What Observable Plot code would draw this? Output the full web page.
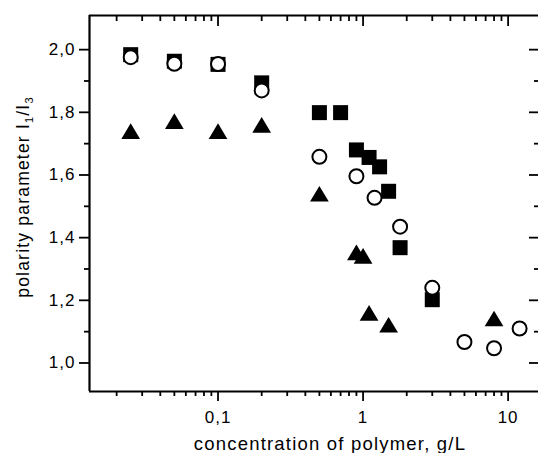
<!DOCTYPE html>
<html>
<head>
<meta charset="utf-8">
<script src="https://cdn.jsdelivr.net/npm/d3@7"></script>
<script src="https://cdn.jsdelivr.net/npm/@observablehq/plot@0.6"></script>
<style>
  body { margin: 0; background: #fff; }
  #chart svg { display: block; }
  #chart svg text { font-family: "Liberation Sans", Arial, sans-serif; letter-spacing: 1px; }
</style>
</head>
<body>
<div id="chart"></div>
<script>
// ---- data ----
const squareConc = [0.025, 0.05, 0.1, 0.2, 0.5, 0.7, 0.9, 1.1, 1.3, 1.5, 1.8, 3.0];
const squareI    = [1.984, 1.963, 1.953, 1.894, 1.799, 1.799, 1.680, 1.656, 1.626, 1.548, 1.368, 1.202];

const circleConc = [0.025, 0.05, 0.1, 0.2, 0.5, 0.9, 1.2, 1.8, 3.0, 5.0, 8.0, 12.0];
const circleI    = [1.976, 1.955, 1.954, 1.870, 1.658, 1.596, 1.527, 1.435, 1.240, 1.067, 1.047, 1.110];

const triangleConc = [0.025, 0.05, 0.1, 0.2, 0.5, 0.9, 1.0, 1.1, 1.5, 8.0];
const triangleI    = [1.740, 1.772, 1.740, 1.760, 1.540, 1.353, 1.342, 1.160, 1.122, 1.142];

const xTickValues = [0.1, 1, 10];
const xTickLabels = ["0,1", "1", "10"];
const xMinorTicks = [0.02,0.03,0.04,0.05,0.06,0.07,0.08,0.09,
                     0.2,0.3,0.4,0.5,0.6,0.7,0.8,0.9,
                     2,3,4,5,6,7,8,9];
const yTickValues = [1.0, 1.2, 1.4, 1.6, 1.8, 2.0];
const yTickLabels = ["1,0", "1,2", "1,4", "1,6", "1,8", "2,0"];
const yMinorTicks = [1.1, 1.3, 1.5, 1.7, 1.9];

const xLabel = "concentration of polymer, g/L";
const yLabelMain = "polarity parameter I";

// ---- layout ----
const W = 538, H = 453;
const mL = 89, mR = 0, mT = 15, mB = 62;
const plotW = W - mL - mR, plotH = H - mT - mB;
const xDomain = [0.013, 16.2];
const yDomain = [0.909, 2.109];

const toRows = (xs, ys) => xs.map((x, i) => ({x, y: ys[i]}));
const squares = toRows(squareConc, squareI);
const circles = toRows(circleConc, circleI);
const triangles = toRows(triangleConc, triangleI);

const squareSymbol = {draw(ctx, size) { const r = Math.sqrt(size / Math.PI); ctx.rect(-r, -r, 2 * r, 2 * r); }};
const triangleSymbol = {draw(ctx, size) {
  const r = Math.sqrt(size / Math.PI);
  ctx.moveTo(0, -r); ctx.lineTo(1.2 * r, r); ctx.lineTo(-1.2 * r, r); ctx.closePath();
}};

const tw = 1.8;   // tick stroke
const fw = 2.2;   // axis line stroke

const chart = Plot.plot({
  width: W, height: H,
  marginLeft: mL, marginRight: mR, marginTop: mT, marginBottom: mB,
  style: {fontFamily: "Liberation Sans, Arial, sans-serif", fontSize: "17px", background: "#fff", color: "#000"},
  x: {type: "log", domain: xDomain, label: null},
  y: {domain: yDomain, label: null},
  marks: [
    // axis lines (left, bottom, top)
    Plot.ruleX([xDomain[0]], {stroke: "#000", strokeWidth: fw}),
    Plot.ruleY([yDomain[0]], {stroke: "#000", strokeWidth: fw}),
    Plot.ruleY([yDomain[1]], {stroke: "#000", strokeWidth: fw}),
    // bottom axis: major with labels, minor ticks
    Plot.axisX(xTickValues, {anchor: "bottom", tickSize: 10, tickPadding: 9, strokeWidth: tw,
      tickFormat: d => xTickLabels[xTickValues.indexOf(d)], label: null, fontSize: 17}),
    Plot.tickX(xMinorTicks, {x: d => d, insetTop: plotH, insetBottom: -5, stroke: "#000", strokeWidth: tw}),
    // top mirror ticks (inward)
    Plot.tickX(xTickValues, {x: d => d, insetBottom: plotH - 11, stroke: "#000", strokeWidth: tw}),
    Plot.tickX(xMinorTicks, {x: d => d, insetBottom: plotH - 6, stroke: "#000", strokeWidth: tw}),
    // left axis
    Plot.axisY(yTickValues, {anchor: "left", tickSize: 10, tickPadding: 4, strokeWidth: tw,
      tickFormat: d => yTickLabels[yTickValues.indexOf(d)], label: null, fontSize: 17}),
    Plot.tickY(yMinorTicks, {y: d => d, insetLeft: -5, insetRight: plotW, stroke: "#000", strokeWidth: tw}),
    // right mirror ticks (inward)
    Plot.tickY(yTickValues, {y: d => d, insetLeft: plotW - 9, stroke: "#000", strokeWidth: tw}),
    Plot.tickY(yMinorTicks, {y: d => d, insetLeft: plotW - 4, stroke: "#000", strokeWidth: tw}),
    // data
    Plot.dot(squares, {x: "x", y: "y", symbol: squareSymbol, r: 7.5, fill: "#000", stroke: "none"}),
    Plot.dot(circles, {x: "x", y: "y", r: 7, fill: "#fff", stroke: "#000", strokeWidth: 2}),
    Plot.dot(triangles, {x: "x", y: "y", symbol: triangleSymbol, r: 7.8, fill: "#000", stroke: "none"})
  ]
});

const svg = d3.select(chart);
// x axis title
svg.append("text")
  .attr("x", 330).attr("y", 450)
  .attr("text-anchor", "middle")
  .attr("fill", "#000")
  .style("font-size", "18.5px")
  .style("letter-spacing", "1.2px")
  .text(xLabel);

// y axis title with subscripts
const yt = svg.append("text")
  .attr("transform", "translate(28.5,197) rotate(-90)")
  .attr("text-anchor", "middle")
  .attr("fill", "#000")
  .style("font-size", "17.5px")
  .style("letter-spacing", "1.2px");
yt.append("tspan").text(yLabelMain);
yt.append("tspan").attr("dy", 4).style("font-size", "11px").text("1");
yt.append("tspan").attr("dy", -4).text("/I");
yt.append("tspan").attr("dy", 4).style("font-size", "11px").text("3");

document.getElementById("chart").appendChild(chart);
</script>
</body>
</html>
